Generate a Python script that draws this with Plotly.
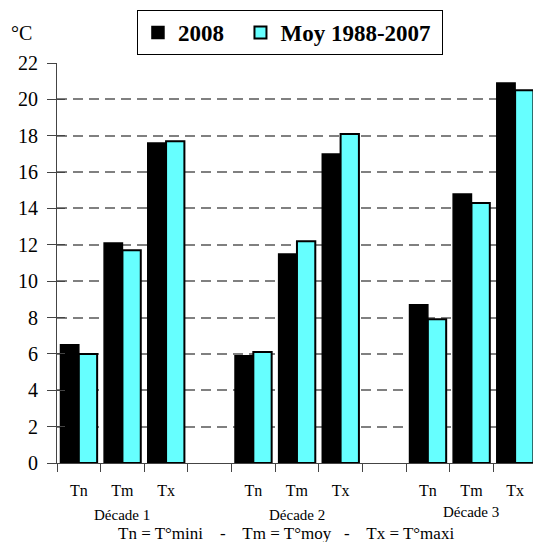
import plotly.graph_objects as go

# Data
slots = ["Tn", "Tm", "Tx", "", "Tn", "Tm", "Tx", "", "Tn", "Tm", "Tx"]
decades = ["Décade 1", "Décade 2", "Décade 3"]
series_2008 = [6.5, 12.1, 17.6, None, 5.9, 11.5, 17.0, None, 8.7, 14.8, 20.9]
series_moy = [6.0, 11.7, 17.7, None, 6.1, 12.2, 18.1, None, 7.9, 14.3, 20.5]
y_ticks = [0, 2, 4, 6, 8, 10, 12, 14, 16, 18, 20, 22]
legend_names = ["2008", "Moy 1988-2007"]

xpos = list(range(len(slots)))
label_pos = [i for i, s in enumerate(slots) if s]
label_txt = [s for s in slots if s]
decade_pos = [i for i, s in enumerate(slots) if s == "Tm"]

serif = "Liberation Serif"
nb = "\u00a0"
axcol = "#444444"

fig = go.Figure()
fig.add_trace(go.Bar(x=xpos, y=series_2008, name=legend_names[0] + nb * 2,
                     marker=dict(color="black", line=dict(color="black", width=1.5))))
fig.add_trace(go.Bar(x=xpos, y=series_moy, name=legend_names[1] + nb,
                     marker=dict(color="#66FFFF", line=dict(color="black", width=2))))
fig.add_trace(go.Scatter(x=[None], y=[None], yaxis="y2", showlegend=False, hoverinfo="skip"))

fig.update_layout(
    width=533, height=542,
    margin=dict(l=57, r=0, t=63, b=79),
    paper_bgcolor="white", plot_bgcolor="white",
    barmode="group", bargap=0.16, bargroupgap=0,
    font=dict(family=serif, color="black"),
    showlegend=True,
    legend=dict(orientation="h", x=0.168, y=1.1325, xanchor="left", yanchor="top",
                bordercolor="black", borderwidth=1, bgcolor="white",
                font=dict(family=serif, size=23, color="black", weight="bold"),
                itemwidth=30, tracegroupgap=0),
    xaxis=dict(range=[-0.5, 10.41], tickmode="array", tickvals=label_pos, ticktext=label_txt,
               ticks="outside", ticklen=0, tickfont=dict(size=16, family=serif),
               ticklabelstandoff=13,
               showline=True, linecolor=axcol, linewidth=1.2, showgrid=False, zeroline=False,
               minor=dict(tickmode="array", tickvals=[i - 0.5 for i in range(len(slots) + 1)],
                          ticks="outside", ticklen=8, tickcolor=axcol, tickwidth=1.2, showgrid=False)),
    yaxis=dict(range=[0, 22], tickmode="array", tickvals=y_ticks,
               ticks="outside", ticklen=9, tickcolor=axcol, tickwidth=1.2,
               tickfont=dict(size=20, family=serif), ticklabelstandoff=5,
               showline=True, linecolor=axcol, linewidth=1.2,
               showgrid=True, gridcolor="#808080", gridwidth=1.5, griddash="10px,6px",
               zeroline=False),
    yaxis2=dict(range=[0, 22], overlaying="y", side="left", tickmode="array", tickvals=y_ticks,
                ticks="inside", ticklen=8, tickcolor=axcol, tickwidth=1.2,
                showticklabels=False, showgrid=False, zeroline=False, showline=False),
)

for p, d, yy in zip(decade_pos, decades, [-0.131, -0.131, -0.122]):
    fig.add_annotation(x=p, y=yy, xref="x", yref="paper", text=d, showarrow=False,
                       font=dict(size=15, family=serif), yanchor="middle")

fig.add_annotation(x=0.481, y=-0.175, xref="paper", yref="paper",
                   text="Tn = T°mini    -    Tm = T°moy   -    Tx = T°maxi", showarrow=False,
                   font=dict(size=17, family=serif), yanchor="middle")
fig.add_annotation(x=-0.1, y=1.075, xref="paper", yref="paper", text="°C", showarrow=False,
                   font=dict(size=20, family=serif), yanchor="middle", xanchor="left")

fig.write_html("out.html", config={"displayModeBar": False},
               post_script="document.body.style.margin='0';document.body.style.overflow='hidden';")
